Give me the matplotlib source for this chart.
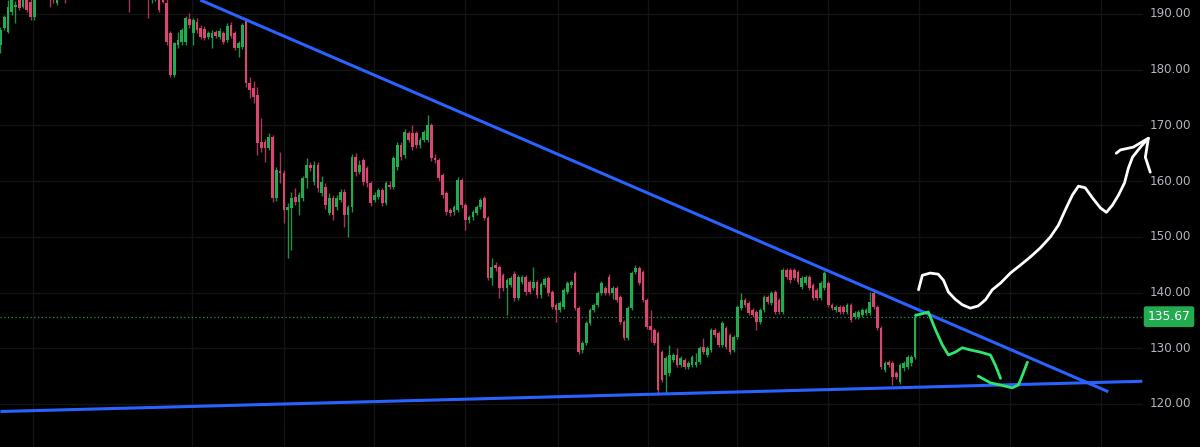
import numpy as np
import matplotlib
matplotlib.use('Agg')
import matplotlib.pyplot as plt

# OHLC, one entry per daily candle (left to right)
opens = [
    184.4, 187.5, 186.8, 190.4, 191.3, 193.5, 191.3, 194.0, 192.2, 189.5,
    194.0, 195.5, 196.5, 195.0, 195.0, 192.0, 195.0, 197.0, 194.0, 194.5,
    196.0, 197.5, 198.0, 197.0, 199.0, 200.0, 198.5, 197.0, 198.0, 199.5,
    198.0, 196.5, 197.0, 198.0, 197.0, 194.0, 195.0, 196.5, 197.0, 196.0,
    193.5, 194.0, 197.0, 193.5, 192.0, 186.6, 179.0, 184.5, 185.0, 185.0,
    189.1, 186.6, 188.6, 187.5, 187.3, 185.9, 185.7, 186.8, 185.9, 186.6,
    185.3, 188.0, 186.6, 183.9, 184.1, 188.9, 177.6, 176.7, 175.5, 167.0,
    167.0, 165.9, 167.9, 157.0, 161.6, 161.5, 154.8, 155.2, 157.2, 156.3,
    157.0, 160.5, 162.9, 159.8, 162.9, 157.9, 158.9, 154.3, 157.0, 155.3,
    156.6, 158.0, 153.9, 155.3, 164.3, 161.6, 163.8, 162.4, 159.6, 156.6,
    157.1, 158.4, 156.1, 159.3, 158.9, 162.5, 166.5, 164.7, 168.6, 168.6,
    168.6, 166.5, 167.4, 167.4, 170.1, 164.1, 163.8, 161.1, 157.9, 154.8,
    154.4, 154.8, 160.2, 155.7, 153.0, 153.5, 154.3, 155.3, 157.0, 153.4,
    142.6, 145.0, 144.6, 143.1, 140.8, 141.4, 143.3, 139.0, 141.9, 142.8,
    141.9, 140.8, 141.9, 139.5, 141.4, 142.6, 140.1, 137.8, 136.9, 137.4,
    140.1, 141.3, 143.5, 137.2, 129.7, 130.9, 134.5, 136.9, 137.8, 139.9,
    140.8, 142.8, 139.9, 140.8, 139.2, 134.7, 131.8, 137.2, 143.7, 144.4,
    143.7, 138.7, 134.0, 133.3, 132.7, 129.3, 125.2, 125.5, 127.9, 128.8,
    127.0, 127.9, 126.6, 127.0, 127.0, 127.5, 130.2, 128.8, 129.7, 133.3,
    132.7, 130.6, 133.6, 132.4, 129.7, 132.0, 137.2, 138.7, 138.1, 136.9,
    136.5, 134.7, 136.9, 139.2, 138.1, 140.1, 138.7, 136.5, 144.0, 144.0,
    144.0, 143.7, 141.0, 141.7, 142.8, 141.3, 140.5, 139.0, 140.8, 141.7,
    137.8, 136.9, 137.4, 137.4, 136.5, 137.8, 135.6, 135.6, 136.0, 136.3,
    136.3, 139.9, 137.4, 133.6, 126.1, 127.5, 127.3, 125.5, 123.9, 126.4,
    126.6, 127.3, 128.4,
]
closes = [
    187.1, 189.5, 191.3, 193.5, 191.6, 191.1, 193.5, 190.7, 189.5, 194.0,
    195.5, 196.5, 195.0, 193.0, 193.5, 195.0, 196.0, 194.0, 194.5, 196.0,
    197.5, 198.0, 197.0, 199.0, 200.0, 198.5, 197.0, 198.0, 199.5, 198.0,
    196.5, 197.0, 198.0, 196.0, 194.0, 195.0, 196.5, 197.0, 196.0, 194.0,
    195.5, 196.0, 190.7, 192.2, 185.0, 179.0, 184.8, 185.3, 187.1, 189.3,
    188.0, 188.9, 187.1, 185.9, 185.7, 186.6, 186.6, 186.1, 187.0, 185.0,
    187.8, 186.1, 183.9, 184.8, 188.0, 177.6, 176.3, 175.1, 166.8, 165.9,
    165.9, 167.9, 157.0, 162.0, 161.5, 154.8, 155.3, 157.0, 156.3, 157.5,
    160.5, 162.9, 162.3, 162.9, 158.8, 159.8, 155.7, 157.0, 153.9, 157.0,
    158.0, 153.9, 155.3, 164.3, 161.6, 162.9, 159.8, 159.6, 156.1, 157.5,
    158.4, 156.1, 159.6, 158.9, 164.1, 166.5, 164.3, 168.8, 167.4, 166.1,
    166.5, 167.4, 168.8, 170.1, 164.1, 163.8, 160.5, 157.5, 154.5, 154.3,
    155.3, 160.2, 155.7, 153.0, 153.5, 154.4, 155.3, 156.6, 153.4, 142.6,
    144.6, 144.4, 140.8, 140.8, 142.2, 142.6, 139.0, 142.8, 142.8, 140.1,
    140.1, 141.9, 139.5, 141.5, 142.4, 139.9, 137.4, 136.9, 138.1, 140.5,
    141.7, 141.9, 137.2, 129.3, 130.9, 134.5, 136.9, 137.8, 139.9, 141.7,
    139.9, 139.9, 140.8, 138.7, 134.7, 131.8, 137.2, 143.5, 144.4, 141.7,
    138.7, 133.8, 133.3, 130.9, 122.5, 124.3, 128.2, 128.8, 128.8, 127.0,
    128.2, 126.6, 127.3, 128.4, 127.5, 130.0, 129.3, 130.0, 133.3, 132.4,
    130.6, 134.5, 130.2, 129.3, 132.0, 137.4, 138.7, 137.8, 136.3, 136.0,
    134.7, 136.9, 139.2, 138.3, 139.9, 136.5, 136.5, 144.0, 142.8, 142.2,
    142.6, 141.9, 142.6, 142.8, 140.8, 139.0, 139.0, 141.7, 143.5, 137.8,
    137.2, 137.4, 136.5, 136.5, 137.8, 135.1, 136.3, 136.5, 136.9, 136.9,
    138.3, 137.4, 133.6, 126.6, 127.3, 127.0, 124.8, 124.8, 127.0, 127.3,
    128.4, 128.4, 135.67,
]
highs = [
    187.7, 189.8, 192.5, 194.5, 192.3, 194.0, 194.0, 194.5, 193.0, 195.0,
    196.5, 197.5, 197.0, 195.5, 195.5, 195.8, 197.0, 197.5, 195.5, 197.0,
    198.5, 199.0, 198.8, 200.0, 201.0, 200.5, 199.0, 199.0, 200.5, 200.0,
    198.5, 198.0, 199.0, 198.5, 197.5, 196.0, 197.5, 198.0, 197.5, 196.5,
    196.0, 196.5, 197.5, 194.0, 193.0, 187.0, 185.0, 186.8, 187.5, 189.6,
    190.2, 189.3, 189.3, 188.0, 187.8, 187.0, 187.1, 187.2, 187.4, 187.0,
    188.4, 188.5, 187.0, 185.2, 188.4, 189.3, 178.7, 178.0, 176.9, 171.3,
    167.5, 168.6, 168.3, 162.5, 165.2, 162.0, 156.0, 158.0, 158.8, 158.0,
    161.0, 164.2, 163.5, 163.6, 163.5, 161.0, 159.7, 157.8, 157.5, 157.5,
    158.5, 158.5, 155.8, 164.8, 165.0, 163.8, 164.2, 162.8, 160.0, 158.0,
    158.8, 158.8, 160.0, 160.0, 164.6, 167.0, 167.0, 169.3, 169.0, 170.1,
    169.0, 168.0, 169.2, 171.9, 170.5, 164.8, 164.2, 161.5, 158.3, 155.2,
    155.8, 160.7, 160.6, 156.1, 154.0, 154.8, 155.8, 157.0, 157.4, 153.8,
    146.2, 145.5, 145.0, 143.5, 142.6, 143.0, 143.8, 143.2, 143.2, 143.2,
    142.3, 144.6, 142.3, 141.9, 142.8, 143.0, 140.5, 138.2, 138.5, 140.9,
    142.1, 142.3, 143.9, 137.6, 131.3, 134.9, 137.3, 138.2, 140.3, 142.1,
    141.2, 143.4, 141.2, 141.2, 139.6, 135.1, 137.6, 143.9, 145.0, 144.8,
    144.1, 139.1, 136.9, 133.7, 133.1, 129.7, 128.6, 130.6, 129.2, 130.0,
    128.6, 128.3, 127.7, 128.8, 129.2, 130.4, 131.8, 130.4, 133.7, 133.7,
    133.1, 134.9, 134.0, 132.8, 132.4, 137.8, 139.9, 139.1, 138.5, 137.3,
    136.9, 137.3, 139.6, 139.6, 140.3, 140.5, 139.1, 144.4, 144.4, 144.4,
    144.4, 144.1, 143.0, 143.2, 143.2, 141.7, 140.9, 142.1, 143.9, 142.1,
    138.2, 137.8, 137.8, 137.8, 138.2, 138.2, 136.7, 136.9, 137.3, 137.3,
    140.1, 140.3, 137.8, 134.0, 127.7, 127.9, 127.7, 125.9, 127.4, 127.7,
    128.8, 128.8, 136.3,
]
lows = [
    183.0, 187.1, 186.5, 189.9, 188.4, 190.8, 191.0, 190.4, 188.9, 188.9,
    193.5, 194.5, 193.8, 191.3, 192.0, 191.6, 193.5, 192.0, 193.2, 193.8,
    195.0, 196.5, 195.5, 196.0, 198.0, 197.5, 196.0, 196.0, 197.0, 197.0,
    195.5, 195.0, 196.0, 194.5, 190.4, 193.0, 194.0, 195.5, 194.5, 189.3,
    192.0, 192.3, 190.3, 191.9, 184.4, 178.7, 178.7, 183.9, 184.5, 184.5,
    187.5, 184.4, 186.6, 185.5, 185.3, 185.5, 183.9, 185.7, 185.5, 184.6,
    185.0, 185.7, 183.5, 182.3, 183.8, 176.9, 174.9, 174.0, 164.7, 165.3,
    163.4, 165.5, 156.2, 156.4, 159.7, 152.5, 146.2, 147.6, 155.8, 153.9,
    156.5, 158.8, 161.8, 159.3, 158.0, 157.4, 155.0, 154.0, 153.0, 154.8,
    156.2, 151.8, 150.0, 154.5, 161.0, 161.2, 159.3, 159.0, 155.5, 156.2,
    156.8, 155.6, 155.8, 158.5, 158.5, 162.0, 163.8, 164.2, 167.0, 165.6,
    166.0, 166.0, 167.0, 167.0, 163.6, 163.3, 160.0, 157.0, 154.0, 153.8,
    154.0, 154.4, 155.2, 151.2, 152.5, 153.1, 153.9, 155.0, 153.0, 142.2,
    141.3, 143.8, 139.0, 140.3, 136.0, 141.0, 138.5, 138.6, 141.5, 139.6,
    139.7, 140.4, 139.0, 139.1, 141.0, 139.4, 137.0, 134.7, 136.5, 137.0,
    139.7, 140.9, 136.8, 128.9, 129.2, 130.5, 134.1, 136.5, 137.4, 139.5,
    139.5, 139.5, 138.8, 138.3, 134.3, 131.4, 131.4, 136.8, 143.3, 141.3,
    138.3, 133.4, 131.1, 130.5, 121.6, 123.9, 122.0, 125.1, 127.5, 126.6,
    126.6, 126.2, 126.2, 126.6, 126.6, 127.1, 128.9, 128.4, 129.3, 132.0,
    130.2, 130.2, 129.8, 128.9, 129.3, 131.6, 136.8, 137.4, 135.9, 135.6,
    133.3, 134.3, 136.5, 137.9, 137.7, 136.1, 136.1, 136.1, 142.4, 141.8,
    142.2, 141.5, 140.6, 141.3, 140.4, 138.6, 138.6, 138.6, 140.4, 137.4,
    136.8, 136.5, 136.1, 136.1, 136.1, 134.7, 135.2, 135.2, 135.6, 135.9,
    135.9, 137.0, 133.2, 126.2, 125.7, 126.6, 123.4, 124.4, 123.5, 126.0,
    126.2, 126.9, 128.0,
]

last_price = 135.67
price_ticks = [120, 130, 140, 150, 160, 170, 180, 190]
# month separators (candle index) shown as faint vertical grid lines
month_breaks = [8.7, 50.8, 74.9, 98.9, 123.0, 147.4, 171.2, 195.0, 219.0, 243.1, 267.2, 291.3]

# trend lines drawn on the chart: (candle index, price) end points
upper_trend_x = [52.9, 293.1]
upper_trend_y = [192.5, 122.2]
lower_trend_x = [0.0, 302.1]
lower_trend_y = [118.65, 124.08]

# hand-drawn scenario sketches: (candle index, price)
white_x = [242.9, 243.9, 246.0, 248.1, 249.5, 250.8, 252.6, 254.5, 256.6, 258.7,
           260.6, 262.4, 264.6, 267.2, 269.8, 272.5, 275.1, 277.8, 279.9, 281.7,
           283.6, 285.2, 287.0, 288.9, 291.0, 292.6, 294.2, 295.8, 297.4, 298.4,
           299.5, 301.6, 303.7]
white_y = [140.5, 143.1, 143.5, 143.3, 142.2, 140.1, 138.8, 137.8, 137.2, 137.6,
           138.7, 140.5, 141.7, 143.5, 144.9, 146.4, 148.0, 150.0, 152.1, 154.8,
           157.5, 159.1, 158.8, 157.0, 155.2, 154.4, 155.7, 157.5, 159.7, 162.3,
           164.3, 166.1, 167.7]
white_head_x = [295.2, 296.3, 299.7, 303.7, 302.9, 304.2]
white_head_y = [165.0, 165.6, 166.1, 167.7, 164.3, 161.6]

green_x = [242.1, 245.5, 247.4, 249.2, 250.8, 252.6, 254.5, 256.6, 259.3, 261.9, 263.2, 264.6]
green_y = [135.9, 136.5, 133.3, 130.6, 128.8, 129.3, 130.1, 129.7, 129.3, 128.8, 127.0, 124.6]
green2_x = [258.7, 261.9, 264.6, 267.7, 269.3, 270.4, 271.7]
green2_y = [125.0, 123.8, 123.4, 122.9, 123.4, 125.2, 127.5]

BG = '#000000'
UP, DOWN = '#22ab4f', '#d9466f'
UP_WICK, DOWN_WICK = '#1e9145', '#a8355a'
GRID = '#131313'
BLUE = '#2962ff'

px = 3.78  # pixels per candle
W, H = 1200, 447

fig = plt.figure(figsize=(W / 100, H / 100), dpi=100, facecolor=BG)
ax = fig.add_axes([0, 0, 1, 1], facecolor=BG)
ax.set_xlim(-0.1, W / px - 0.1)
ax.set_ylim(112.28, 192.51)
ax.axis('off')

plot_right = 1142 / W

for p in price_ticks:
    ax.axhline(p, xmin=0, xmax=plot_right, color=GRID, lw=1, zorder=0)
for m in month_breaks:
    ax.axvline(m, color=GRID, lw=1, zorder=0)

o = np.array(opens)
c = np.array(closes)
h = np.array(highs)
lo = np.array(lows)
idx = np.arange(len(c))
up = c >= o

ax.vlines(idx[up], lo[up], h[up], color=UP_WICK, lw=1, zorder=2)
ax.vlines(idx[~up], lo[~up], h[~up], color=DOWN_WICK, lw=1, zorder=2)
body_lo = np.minimum(o, c)
body_h = np.maximum(np.abs(c - o), 0.25)
ax.bar(idx[up], body_h[up], bottom=body_lo[up], width=0.72, color=UP, lw=0, zorder=3)
ax.bar(idx[~up], body_h[~up], bottom=body_lo[~up], width=0.72, color=DOWN, lw=0, zorder=3)

# last-price guide line
ax.axhline(last_price, xmin=0, xmax=plot_right, color='#1f9a48', lw=0.9,
           linestyle=(0, (1, 2)), zorder=1)

ax.plot(upper_trend_x, upper_trend_y, color=BLUE, lw=2.2, zorder=4, solid_capstyle='butt')
ax.plot(lower_trend_x, lower_trend_y, color=BLUE, lw=2.2, zorder=4, solid_capstyle='butt')

sketch = dict(lw=2, zorder=5, solid_capstyle='round', solid_joinstyle='round')
ax.plot(white_x, white_y, color='white', **sketch)
ax.plot(white_head_x, white_head_y, color='white', **sketch)
ax.plot(green_x, green_y, color='#2ee66b', **sketch)
ax.plot(green2_x, green2_y, color='#2ee66b', **sketch)

for p in price_ticks:
    ax.text(1150 / W, p, f'{p:.2f}', transform=ax.get_yaxis_transform(),
            color='#b2b5be', fontsize=8.6, va='center', ha='left')

ax.text(1169 / W, last_price, f'{last_price:.2f}', transform=ax.get_yaxis_transform(),
        color='white', fontsize=8.8, va='center', ha='center', zorder=6,
        bbox=dict(boxstyle='round,pad=0.32,rounding_size=0.2', fc='#22ab4f', ec='none'))

fig.savefig('out.png', dpi=100, facecolor=BG)
